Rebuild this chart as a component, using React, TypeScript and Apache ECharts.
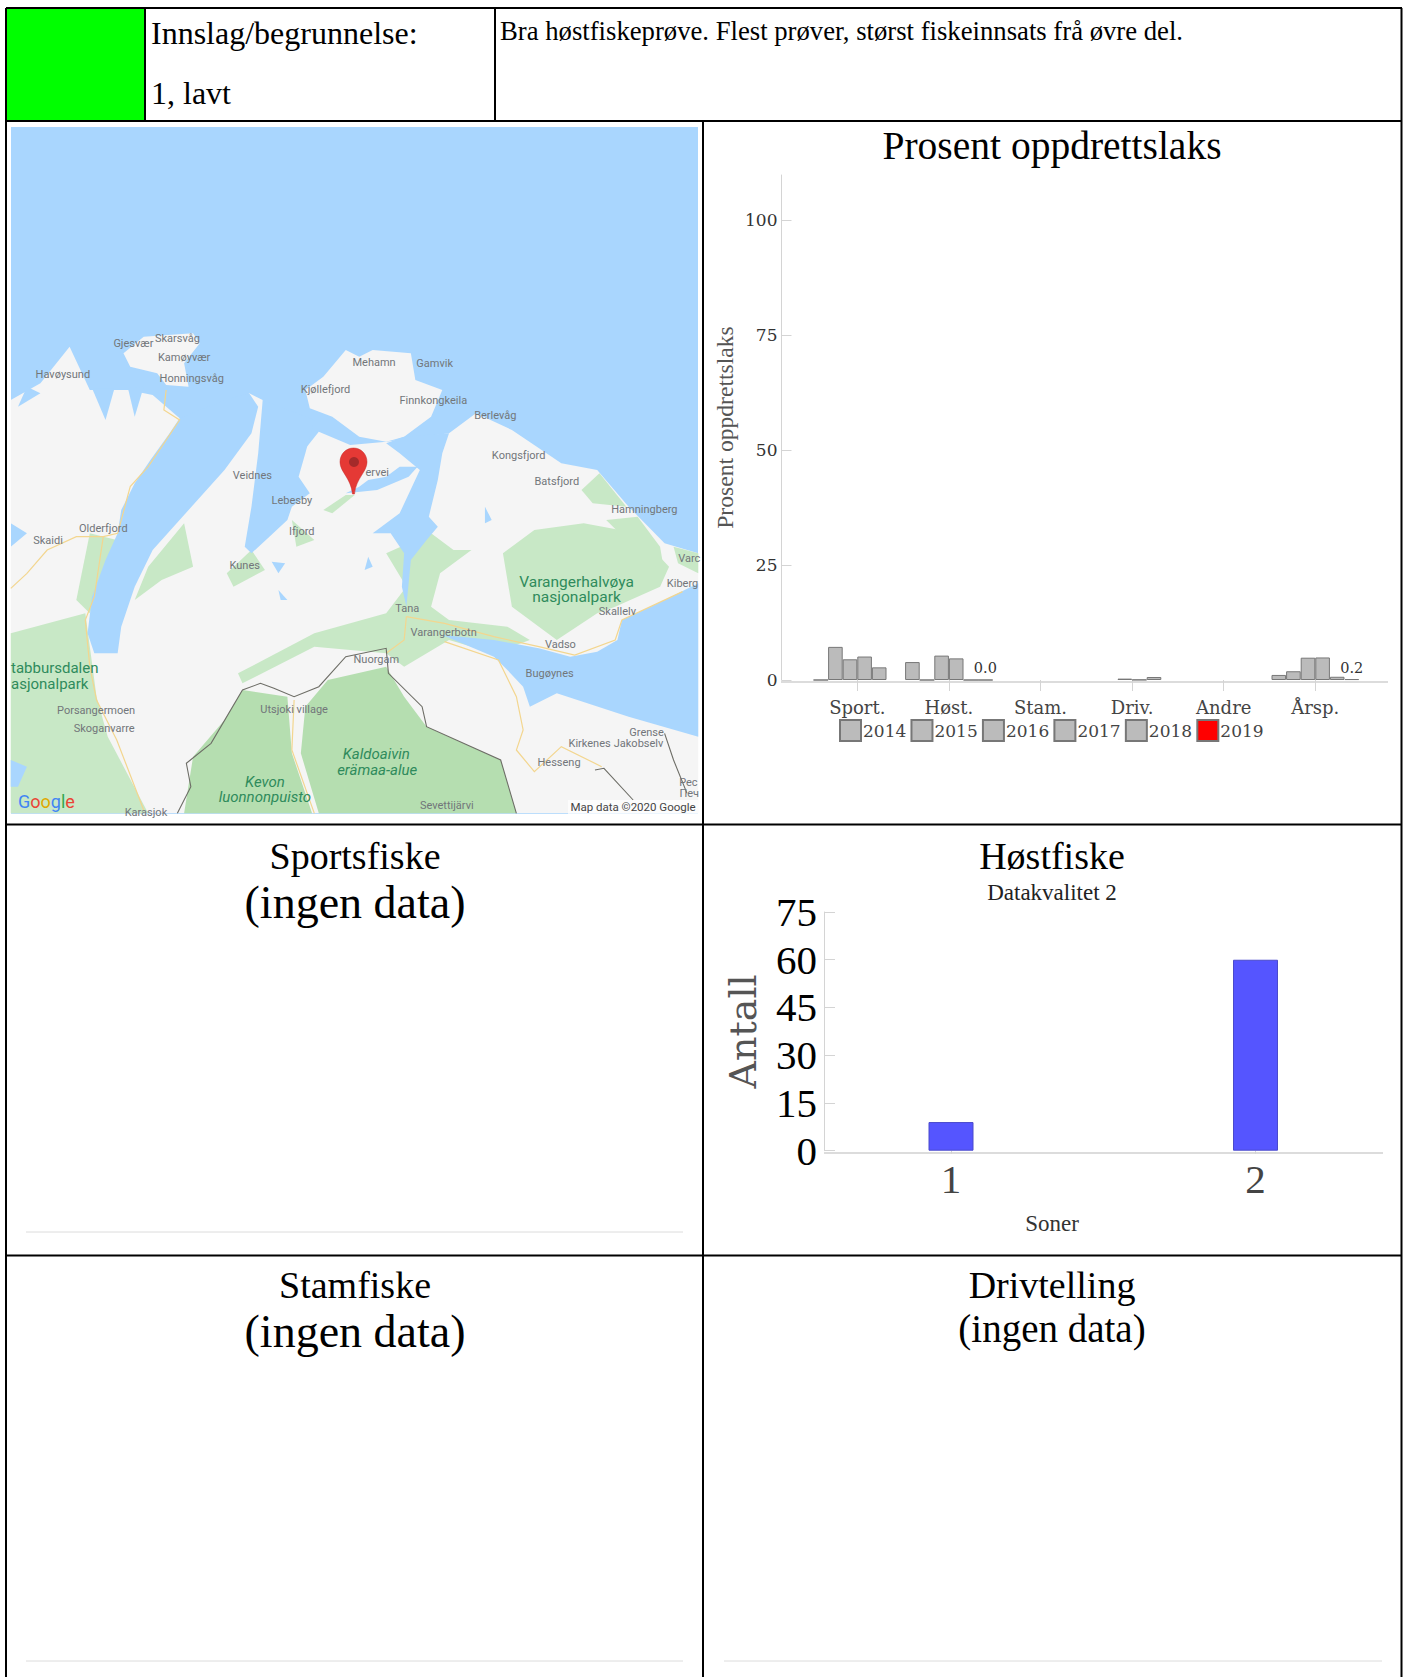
import React, { useEffect, useRef } from "react";
import * as echarts from "echarts";

const categories = ["Sport.", "Høst.", "Stam.", "Driv.", "Andre", "Årsp."];
const years = ["2014", "2015", "2016", "2017", "2018", "2019"];
const v2014 = [0, 3.9, null, null, null, 1.1];
const v2015 = [7.2, 0, null, null, null, 1.9];
const v2016 = [4.5, 5.3, null, 0.3, null, 4.85];
const v2017 = [5.1, 4.7, null, 0.05, null, 4.9];
const v2018 = [2.75, 0, null, 0.65, null, 0.7];
const v2019 = [null, 0, null, null, null, 0.2];
const yearValues = [v2014, v2015, v2016, v2017, v2018, v2019];
const percentTicks = [0, 25, 50, 75, 100];

const zones = ["1", "2"];
const harvestCounts = [9, 60];

const SERIF = "Liberation Serif";
const DROID = "DejaVu Serif";
const SEA = "#a9d6fe";
const LAND = "#f5f5f5";
const GREEN = "#c8e8c6";
const PARK = "#b5deb0";

type Pt = [number, number];
const mp = (pts: Pt[]) => pts.map(([x, y]) => [x / 2.227, 320 + y / 3]);

const txt = (text: string, x: number, y: number, size: number, o: any = {}) => ({
  type: "text",
  x,
  y,
  rotation: o.rotation || 0,
  silent: true,
  style: {
    text,
    font: `${o.italic ? "italic " : ""}${size}px "${o.family || SERIF}"`,
    fill: o.fill || "#000",
    align: o.align || "center",
    verticalAlign: "middle",
    textAlign: o.align || "center",
    textVerticalAlign: "middle",
  },
});

const poly = (pts: Pt[], fill: string) => ({
  type: "polygon",
  silent: true,
  shape: { points: mp(pts) },
  style: { fill },
});
const road = (pts: Pt[], stroke: string, lineWidth: number) => ({
  type: "polyline",
  silent: true,
  shape: { points: mp(pts) },
  style: { stroke, lineWidth, fill: "none" },
});
const hline = (x1: number, y1: number, x2: number, y2: number, stroke: string, lineWidth: number) => ({
  type: "line",
  silent: true,
  shape: { x1, y1, x2, y2 },
  style: { stroke, lineWidth },
});

const mapLabels: [string, number, number][] = [
  ["Gjesvær", 297, 70], ["Skarsvåg", 395, 55], ["Kamøyvær", 410, 113], ["Honningsvåg", 427, 175],
  ["Havøysund", 140, 162], ["Mehamn", 833, 127], ["Gamvik", 968, 130], ["Kjøllefjord", 725, 207],
  ["Finnkongkeila", 965, 240], ["Berlevåg", 1103, 285], ["Kongsfjord", 1155, 406], ["Batsfjord", 1240, 484],
  ["Hamningberg", 1435, 568], ["Veidnes", 562, 467], ["Lebesby", 650, 540], ["Ifjord", 672, 635],
  ["Olderfjord", 230, 625], ["Skaidi", 107, 660], ["Kunes", 545, 736], ["Kiberg", 1520, 790],
  ["Skallelv", 1375, 873], ["Tana", 907, 864], ["Varangerbotn", 988, 938], ["Vadso", 1248, 973],
  ["Nuorgam", 838, 1018], ["Bugøynes", 1224, 1061], ["Utsjoki village", 655, 1167],
  ["Porsangermoen", 214, 1170], ["Skoganvarre", 232, 1224], ["Grense", 1440, 1237],
  ["Kirkenes", 1313, 1270], ["Jakobselv", 1422, 1270], ["Hesseng", 1245, 1328], ["Sevettijärvi", 995, 1457],
  ["ervei", 840, 456], ["Varc", 1535, 716], ["Pec", 1533, 1388], ["Пeч", 1535, 1420], ["Karasjok", 325, 1476],
];
const parkLabels: [string, number, number, number, boolean][] = [
  ["Varangerhalvøya", 1284, 785, 15.5, false], ["nasjonalpark", 1284, 830, 15.5, false],
  ["Kaldoaivin", 838, 1303, 15, true], ["erämaa-alue", 840, 1349, 15, true],
  ["Kevon", 590, 1387, 15, true], ["luonnonpuisto", 590, 1432, 15, true],
];

function buildMap(): any[] {
  const land: Pt[] = [[24, 240], [90, 190], [155, 80], [200, 210], [285, 210], [340, 225], [400, 295], [500, 300], [555, 220], [585, 240], [660, 420], [710, 335], [780, 375], [860, 365], [1000, 340], [1060, 280], [1140, 330], [1250, 430], [1330, 450], [1400, 560], [1480, 670], [1555, 700], [1555, 1480], [24, 1480], [24, 680], [60, 640], [24, 610]];
  const nordkinn: Pt[] = [[680, 210], [720, 170], [770, 90], [800, 110], [830, 90], [915, 100], [925, 180], [985, 210], [960, 290], [900, 350], [860, 365], [800, 350], [740, 290], [690, 265]];
  const mageroya: Pt[] = [[275, 100], [320, 50], [430, 40], [445, 70], [410, 130], [420, 200], [370, 195], [350, 160], [290, 140]];
  const porsanger: Pt[] = [[400, 295], [500, 240], [555, 220], [575, 260], [560, 340], [500, 450], [440, 540], [380, 630], [340, 690], [300, 800], [270, 920], [262, 1000], [210, 1000], [195, 940], [205, 830], [235, 720], [262, 640], [270, 570], [300, 490], [335, 420], [375, 345]];
  const laksefjord: Pt[] = [[585, 240], [700, 300], [680, 400], [665, 470], [690, 520], [650, 560], [640, 600], [600, 650], [560, 700], [545, 680], [560, 560], [575, 400]];
  const tana: Pt[] = [[1000, 340], [985, 400], [975, 480], [955, 590], [975, 620], [950, 660], [915, 720], [905, 860], [895, 800], [900, 700], [870, 640], [830, 640], [890, 580], [935, 450], [890, 400], [860, 370], [900, 350]];
  const bay: Pt[] = [[770, 520], [840, 510], [910, 470], [930, 440], [890, 440], [860, 470], [820, 480], [800, 500]];
  const varanger: Pt[] = [[985, 945], [1100, 960], [1200, 985], [1270, 1010], [1330, 995], [1375, 960], [1385, 900], [1480, 840], [1555, 790], [1555, 1250], [1400, 1190], [1240, 1120], [1180, 1160], [1165, 1100], [1130, 1050], [1100, 1010]];
  const waterBits: Pt[][] = [
    [[205, 205], [235, 300], [255, 205]],
    [[285, 205], [300, 290], [320, 200]],
    [[60, 200], [40, 260], [90, 220]],
    [[605, 725], [635, 730], [620, 760]],
    [[620, 810], [640, 840], [625, 840]],
    [[1080, 560], [1095, 600], [1080, 610]],
    [[820, 710], [830, 740], [812, 750]],
    [[24, 1320], [60, 1340], [40, 1400], [24, 1400]],
    [[860, 1050], [885, 1130], [860, 1110]],
  ];
  const greens: Pt[][] = [
    [[1120, 700], [1190, 630], [1300, 610], [1420, 640], [1490, 740], [1470, 800], [1370, 860], [1330, 880], [1240, 960], [1140, 860]],
    [[1295, 510], [1335, 460], [1395, 560], [1320, 550]],
    [[1350, 600], [1420, 590], [1470, 680], [1480, 760], [1440, 720]],
    [[1500, 680], [1555, 700], [1555, 760], [1510, 730]],
    [[24, 940], [190, 880], [215, 1130], [240, 1250], [330, 1480], [24, 1480]],
    [[860, 700], [960, 640], [1010, 690], [1050, 690], [980, 760], [960, 860], [1000, 900], [1130, 920], [1180, 960], [1100, 1000], [1000, 960], [900, 1040], [860, 1000], [700, 980], [540, 1090], [530, 1060], [700, 940], [860, 880], [905, 800]],
    [[330, 740], [410, 610], [430, 740], [360, 780], [300, 840]],
    [[505, 760], [560, 690], [590, 750], [520, 800]],
    [[200, 640], [260, 660], [200, 880], [170, 840]],
    [[720, 570], [770, 525], [790, 525], [740, 580]],
    [[650, 600], [700, 660], [660, 680]],
  ];
  const kaldo: Pt[] = [[860, 1040], [730, 1080], [680, 1160], [670, 1300], [710, 1480], [1150, 1480], [1115, 1320], [950, 1220], [900, 1130]];
  const kevon: Pt[] = [[430, 1310], [500, 1200], [540, 1110], [640, 1130], [650, 1300], [695, 1480], [410, 1480]];
  const roads: Pt[][] = [
    [[370, 210], [365, 270], [400, 300], [330, 440], [290, 500], [262, 640], [230, 650], [170, 650], [105, 690], [60, 760], [24, 805]],
    [[230, 650], [210, 830], [190, 900], [200, 1040], [215, 1140], [260, 1260], [320, 1470]],
    [[905, 890], [990, 910], [1100, 950], [1200, 980], [1280, 1005], [1370, 960], [1385, 900], [1520, 815]],
    [[905, 890], [900, 960], [860, 1000]],
    [[990, 965], [1110, 1020], [1150, 1130], [1165, 1230], [1150, 1290], [1190, 1355], [1250, 1280], [1340, 1340]],
    [[655, 1140], [650, 1290], [700, 1480]],
  ];
  const borders: Pt[][] = [
    [[395, 1480], [425, 1400], [415, 1330], [470, 1270], [540, 1110], [580, 1090], [610, 1105], [655, 1130], [710, 1100], [770, 1010], [860, 985], [865, 1060], [940, 1160], [950, 1220], [1115, 1320], [1150, 1480]],
    [[1480, 1240], [1500, 1320], [1530, 1420]],
    [[1325, 1350], [1345, 1345], [1410, 1440]],
  ];
  const out: any[] = [
    { type: "rect", silent: true, shape: { x: 11, y: 127, width: 687, height: 687 }, style: { fill: SEA } },
    poly(land, LAND), poly(nordkinn, LAND), poly(mageroya, LAND),
    ...greens.map((g) => poly(g, GREEN)),
    poly(porsanger, SEA), poly(laksefjord, SEA), poly(tana, SEA), poly(bay, SEA), poly(varanger, SEA),
    ...waterBits.map((w) => poly(w, SEA)),
    poly(kaldo, PARK), poly(kevon, PARK),
    ...roads.map((r) => road(r, "#f3d68f", 1.2)),
    ...borders.map((b) => road(b, "#6d6d66", 1.1)),
    { type: "rect", silent: true, shape: { x: 568, y: 800, width: 130, height: 14 }, style: { fill: "rgba(255,255,255,0.7)" } },
  ];
  mapLabels.forEach(([t, x, y]) => out.push(txt(t, x / 2.227, 320 + y / 3, 11, { family: "Roboto", fill: "#72767a" })));
  parkLabels.forEach(([t, x, y, s, it]) => out.push(txt(t, x / 2.227, 320 + y / 3, s, { family: "Roboto", fill: "#2f8b5c", italic: it })));
  out.push(txt("tabbursdalen", 11, 320 + 1045 / 3, 15, { family: "Roboto", fill: "#2f8b5c", align: "left" }));
  out.push(txt("asjonalpark", 11, 320 + 1092 / 3, 15, { family: "Roboto", fill: "#2f8b5c", align: "left" }));
  out.push(txt("Map data ©2020 Google", 633, 807, 11.5, { family: "Roboto", fill: "#444" }));
  out.push({
    type: "pin", x: 340, y: 448, silent: true,
    style: { fill: "#e53935", stroke: "#c62828", lineWidth: 0.5 },
  });
  out.push({ type: "circle", silent: true, shape: { cx: 354, cy: 462, r: 5 }, style: { fill: "#a52a2a" } });
  out.push({
    type: "text", x: 18, y: 801, silent: true,
    style: {
      text: "{b|G}{r|o}{y|o}{b|g}{g|l}{r|e}",
      font: '18px "Roboto"',
      align: "left", verticalAlign: "middle", textAlign: "left", textVerticalAlign: "middle",
      rich: {
        b: { fill: "#4285f4", font: '18px "Roboto"' },
        r: { fill: "#ea4335", font: '18px "Roboto"' },
        y: { fill: "#e0a800", font: '18px "Roboto"' },
        g: { fill: "#34a853", font: '18px "Roboto"' },
      },
    },
  });
  return out;
}

function buildFrame(): any[] {
  const k = "#000";
  return [
    { type: "rect", silent: true, shape: { x: 6, y: 8, width: 139, height: 112 }, style: { fill: "#00ff00" } },
    hline(6, 8, 1402, 8, k, 2),
    hline(6, 121, 1402, 121, k, 2),
    hline(6, 824.5, 1402, 824.5, k, 2),
    hline(6, 1255.5, 1402, 1255.5, k, 2),
    hline(6, 8, 6, 1677, k, 2),
    hline(1401.5, 8, 1401.5, 1677, k, 2),
    hline(145, 8, 145, 121, k, 2),
    hline(495, 8, 495, 121, k, 2),
    hline(703, 121, 703, 1677, k, 2),
  ];
}

function buildTexts(): any[] {
  return [
    txt("Innslag/begrunnelse:", 151, 33, 32, { align: "left" }),
    txt("1, lavt", 151, 93, 32, { align: "left" }),
    txt("Bra høstfiskeprøve. Flest prøver, størst fiskeinnsats frå øvre del.", 500, 31, 26.7, { align: "left" }),
    txt("Prosent oppdrettslaks", 1052, 146, 39.5),
    txt("Sportsfiske", 355, 856, 38),
    txt("(ingen data)", 355, 902, 46),
    txt("Høstfiske", 1052, 856, 38),
    txt("Datakvalitet 2", 1052, 892, 23, { fill: "#222" }),
    txt("Soner", 1052, 1223, 23, { fill: "#333" }),
    txt("Stamfiske", 355, 1285, 38),
    txt("(ingen data)", 355, 1331, 46),
    txt("Drivtelling", 1052, 1285, 38),
    txt("(ingen data)", 1052, 1328, 39),
    hline(26, 1232, 683, 1232, "#dcdcdc", 1),
    hline(26, 1661, 683, 1661, "#dcdcdc", 1),
    hline(724, 1661, 1382, 1661, "#dcdcdc", 1),
    hline(781, 682, 1388, 682, "#dcdcdc", 2),
    hline(824, 1153, 1383, 1153, "#dcdcdc", 2),
  ];
}

export default function App() {
  const ref = useRef<HTMLDivElement>(null);
  useEffect(() => {
    const d = "M13.5 0 C21 0 27 6 27 14 C27 24 16 30 14.5 46 L12.5 46 C11 30 0 24 0 14 C0 6 6 0 13.5 0Z";
    echarts.graphic.registerShape("pin", echarts.graphic.extendPath(d, {}) as any);
    const chart = echarts.init(ref.current!, null, { renderer: "svg" });
    const axisGrey = "#d4d4d4";
    chart.setOption({
      animation: false,
      backgroundColor: "#fff",
      grid: [
        { left: 811.5, top: 175, width: 549.6, height: 505 },
        { left: 951, top: 912, width: 304.5, height: 238.7 },
      ],
      legend: {
        left: 839,
        top: 719,
        itemWidth: 21,
        itemHeight: 21,
        itemGap: 4.2,
        icon: "rect",
        selectedMode: false,
        padding: 0,
        data: years,
        textStyle: { fontFamily: DROID, fontSize: 17, color: "#444", padding: [0, 0, 2, -3] },
      },
      xAxis: [
        {
          type: "category", gridIndex: 0, data: categories, offset: 2,
          axisLine: { show: false },
          axisTick: { show: true, length: 11, alignWithLabel: true, lineStyle: { color: axisGrey } },
          axisLabel: { fontFamily: DROID, fontSize: 18, color: "#444", margin: 16 },
        },
        {
          type: "category", gridIndex: 1, data: zones, offset: 2, boundaryGap: false,
          axisLine: { show: false },
          axisTick: { show: true, length: 3, lineStyle: { color: axisGrey } },
          axisLabel: { fontFamily: SERIF, fontSize: 41, color: "#444", margin: 6 },
        },
      ],
      yAxis: [
        {
          type: "value", gridIndex: 0, min: 0, max: 109.8, offset: 30,
          name: "Prosent oppdrettslaks", nameLocation: "middle", nameGap: 45,
          nameTextStyle: { fontFamily: SERIF, fontSize: 23.6, color: "#555" },
          axisLine: { show: true, lineStyle: { color: axisGrey } },
          axisTick: { show: true, inside: true, length: 10, customValues: percentTicks, lineStyle: { color: axisGrey } },
          axisLabel: { fontFamily: DROID, fontSize: 17, color: "#333", margin: 4, customValues: percentTicks },
          splitLine: { show: false },
        },
        {
          type: "value", gridIndex: 1, min: 0, max: 75, interval: 15, offset: 127,
          name: "Antall", nameLocation: "middle", nameGap: 62,
          nameTextStyle: { fontFamily: DROID, fontSize: 38, color: "#555" },
          axisLine: { show: true, lineStyle: { color: axisGrey } },
          axisTick: { show: true, inside: true, length: 11, lineStyle: { color: axisGrey } },
          axisLabel: { fontFamily: SERIF, fontSize: 41, color: "#000", margin: 7, padding: [0, 0, 4, 0] },
          splitLine: { show: false },
        },
      ],
      series: [
        ...years.map((y, i) => ({
          type: "bar",
          name: y,
          xAxisIndex: 0,
          yAxisIndex: 0,
          data: yearValues[i],
          barWidth: 14.6,
          barGap: "0%",
          itemStyle: {
            color: y === "2019" ? "#ff0000" : "#bbbbbb",
            borderColor: "#777777",
            borderWidth: 1,
          },
          label: y === "2019"
            ? {
                show: true,
                position: "top",
                distance: 4,
                fontFamily: DROID,
                fontSize: 14.5,
                color: "#333",
                formatter: (p: any) => Number(p.value).toFixed(1),
              }
            : { show: false },
        })),
        {
          type: "bar",
          name: "Antall",
          xAxisIndex: 1,
          yAxisIndex: 1,
          data: harvestCounts,
          barWidth: 45,
          clip: false,
          itemStyle: { color: "#5555ff", borderColor: "#4a4acc", borderWidth: 1 },
        },
      ],
      graphic: { elements: [...buildFrame(), ...buildMap(), ...buildTexts()] },
    });
    return () => chart.dispose();
  }, []);
  return (
    <div
      ref={ref}
      style={{ position: "absolute", left: 0, top: 0, width: 1404, height: 1677, background: "#fff" }}
    />
  );
}
